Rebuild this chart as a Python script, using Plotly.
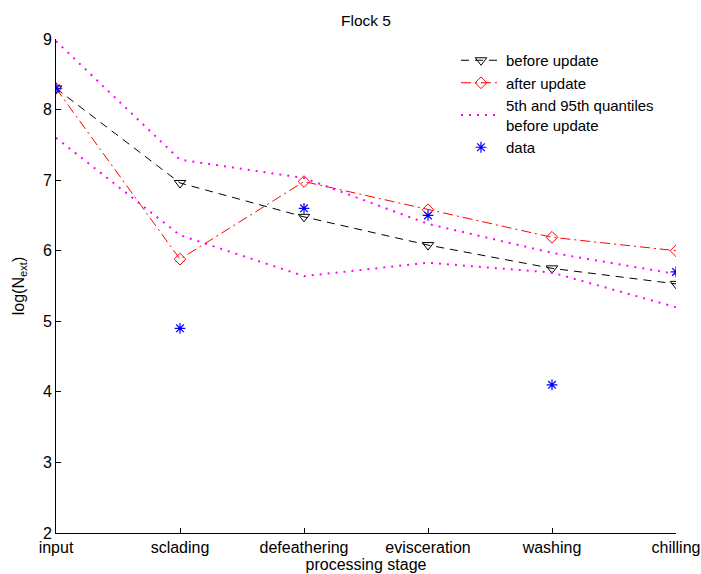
import plotly.graph_objects as go

stages = ["input", "sclading", "defeathering", "evisceration", "washing", "chilling"]
before_update = [8.30, 6.96, 6.48, 6.08, 5.75, 5.53]
after_update = [8.30, 5.88, 6.98, 6.58, 6.19, 6.00]
q95_before = [8.97, 7.29, 7.03, 6.38, 5.97, 5.67]
q05_before = [7.60, 6.22, 5.64, 5.83, 5.69, 5.20]
data_obs = [8.30, 4.90, 6.60, 6.50, 4.10, 5.70]
y_ticks = [2, 3, 4, 5, 6, 7, 8, 9]

x = list(range(len(stages)))
font_family = "Liberation Sans, Arial, sans-serif"

# plot area in pixels
L, R, T, B = 56, 25, 39, 41
W, H = 701, 574
pw, ph = W - L - R, H - T - B

fig = go.Figure()
fig.add_trace(go.Scatter(
    x=x, y=before_update, mode="lines+markers", name="before update",
    line=dict(color="black", dash="8px,6px", width=1),
    marker=dict(symbol="triangle-down-open", size=10, color="black", line=dict(width=1)),
))
fig.add_trace(go.Scatter(
    x=x, y=after_update, mode="lines+markers", name="after update",
    line=dict(color="red", dash="10px,4px,2px,4px", width=1),
    marker=dict(symbol="diamond-open", size=9, color="red", line=dict(width=1)),
))
fig.add_trace(go.Scatter(
    x=x, y=q95_before, mode="lines", name="5th and 95th quantiles<br>before update",
    line=dict(color="#ff00ff", dash="2px,6px", width=2), legendgroup="q",
))
fig.add_trace(go.Scatter(
    x=x, y=q05_before, mode="lines", name="5th and 95th quantiles<br>before update",
    line=dict(color="#ff00ff", dash="2px,6px", width=2), legendgroup="q",
    showlegend=False,
))
fig.add_trace(go.Scatter(
    x=x, y=data_obs, mode="markers", name="data",
    marker=dict(symbol="asterisk-open", size=9, color="blue", line=dict(width=1.2, color="blue")),
))

fig.update_layout(
    width=W, height=H,
    margin=dict(l=L, r=R, t=T, b=B, autoexpand=False),
    paper_bgcolor="white", plot_bgcolor="white",
    font=dict(family=font_family, size=16, color="black"),
    title=dict(text="Flock 5", x=366 / W, xanchor="center", y=1 - 21 / H,
               yanchor="middle", font=dict(size=15.5)),
    showlegend=True,
    legend=dict(x=(456 - L) / pw, xanchor="left", y=(H - B - 44) / ph, yanchor="top",
                bgcolor="rgba(0,0,0,0)", font=dict(size=15), tracegroupgap=0,
                itemwidth=40),
)
fig.update_xaxes(
    range=[0, 5], tickvals=x, ticktext=stages, showgrid=False, zeroline=False,
    showline=True, linecolor="black", linewidth=1, ticks="inside", ticklen=5,
    tickcolor="black", tickfont=dict(size=16), automargin=False,
    title=dict(text="processing stage", font=dict(size=16), standoff=0),
)
fig.update_yaxes(
    range=[2, 9], tickvals=y_ticks, showgrid=False, zeroline=False,
    showline=True, linecolor="black", linewidth=1, ticks="inside", ticklen=5,
    tickcolor="black", tickfont=dict(size=16), automargin=False,
    title=dict(text="log(N<sub>ext</sub>)", font=dict(size=16), standoff=14),
)

fig.write_html("out.html")
